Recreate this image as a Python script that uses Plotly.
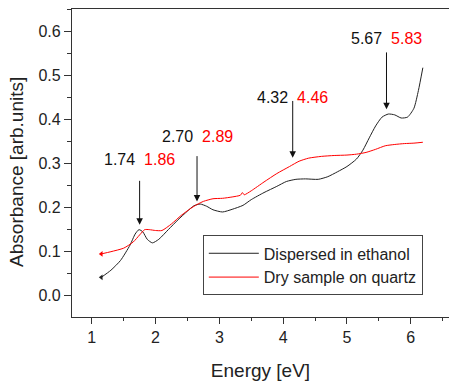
import plotly.graph_objects as go

# Data
energy_eth = [1.15, 1.3, 1.45, 1.6, 1.68, 1.74, 1.80, 1.87, 1.95, 2.05, 2.2, 2.35, 2.5, 2.6, 2.7, 2.8,
              2.9, 3.05, 3.2, 3.37, 3.5, 3.7, 3.9, 4.05, 4.2, 4.35, 4.55, 4.7, 4.85, 5.0, 5.15, 5.25,
              5.35, 5.45, 5.55, 5.65, 5.75, 5.85, 5.95, 6.05, 6.12, 6.19]
abs_eth = [0.042, 0.058, 0.080, 0.115, 0.140, 0.150, 0.145, 0.128, 0.120, 0.128, 0.150, 0.172, 0.192,
           0.204, 0.208, 0.203, 0.195, 0.190, 0.196, 0.205, 0.218, 0.234, 0.248, 0.259, 0.264, 0.265,
           0.264, 0.270, 0.281, 0.293, 0.310, 0.330, 0.358, 0.385, 0.405, 0.412, 0.410, 0.403, 0.405,
           0.425, 0.465, 0.517]

energy_dry = [1.15, 1.3, 1.5, 1.65, 1.75, 1.83, 1.9, 2.0, 2.1, 2.25, 2.4, 2.55, 2.65, 2.75, 2.9, 3.05,
              3.2, 3.33, 3.36, 3.39, 3.5, 3.7, 3.9, 4.1, 4.25, 4.4, 4.6, 4.8, 5.0, 5.15, 5.3, 5.45,
              5.6, 5.75, 5.9, 6.05, 6.19]
abs_dry = [0.095, 0.100, 0.108, 0.122, 0.138, 0.150, 0.150, 0.148, 0.148, 0.163, 0.182, 0.198, 0.207,
           0.214, 0.220, 0.221, 0.224, 0.228, 0.234, 0.229, 0.238, 0.258, 0.277, 0.293, 0.305, 0.312,
           0.316, 0.318, 0.319, 0.321, 0.325, 0.332, 0.340, 0.343, 0.345, 0.346, 0.348]

# Peak labels: (black value, red value, arrow x, arrow tail y, arrow head y, label y)
peak_black = ["1.74", "2.70", "4.32", "5.67"]
peak_red = ["1.86", "2.89", "4.46", "5.83"]
arrow_x = [1.75, 2.65, 4.15, 5.62]
arrow_tail = [0.264, 0.320, 0.445, 0.555]
arrow_head = [0.161, 0.214, 0.313, 0.423]
label_y = [0.310, 0.360, 0.449, 0.583]

FONT = "Liberation Sans, Arial, sans-serif"

fig = go.Figure()
fig.add_trace(go.Scatter(x=energy_eth, y=abs_eth, mode="lines", name="Dispersed in ethanol",
                         line=dict(color="#222222", width=1, shape="spline", smoothing=0.6)))
fig.add_trace(go.Scatter(x=energy_dry, y=abs_dry, mode="lines", name="Dry sample on quartz",
                         line=dict(color="#ff0000", width=1, shape="spline", smoothing=0.6)))
fig.add_trace(go.Scatter(x=[energy_eth[0]], y=[abs_eth[0]], mode="markers", showlegend=False,
                         marker=dict(color="#222222", size=5, symbol="triangle-left")))
fig.add_trace(go.Scatter(x=[energy_dry[0]], y=[abs_dry[0]], mode="markers", showlegend=False,
                         marker=dict(color="#ff0000", size=5, symbol="triangle-left")))

for b, r, ax_, t, h, ly in zip(peak_black, peak_red, arrow_x, arrow_tail, arrow_head, label_y):
    fig.add_annotation(x=ax_, y=h, ax=ax_, ay=t, xref="x", yref="y", axref="x", ayref="y",
                       text="", showarrow=True, arrowhead=2, arrowsize=1.3, arrowwidth=1,
                       arrowcolor="#111111")
    fig.add_annotation(x=ax_, y=ly, xref="x", yref="y", showarrow=False,
                       text=f"{b}&nbsp;&nbsp;<span style='color:#ff0000'>{r}</span>",
                       font=dict(size=16, color="#111111", family=FONT))

# y-axis title as annotation (placed slightly below the axis centre, as in the reference)
fig.add_annotation(text="Absorbance [arb.units]", xref="paper", yref="paper",
                   x=-0.146, y=0.471, xanchor="center", yanchor="middle", textangle=-90,
                   showarrow=False, font=dict(size=19, family=FONT, color="#222222"))

fig.update_layout(
    width=449, height=381,
    margin=dict(l=72, r=0, t=9, b=64),
    paper_bgcolor="white", plot_bgcolor="white",
    font=dict(family=FONT, size=16, color="#222222"),
    legend=dict(x=0.347, y=0.265, xanchor="left", yanchor="top",
                bordercolor="#444444", borderwidth=1, bgcolor="white",
                font=dict(size=16, family=FONT), tracegroupgap=0,
                itemwidth=50, entrywidth=170),
    xaxis=dict(range=[0.69, 6.6], tickvals=[1, 2, 3, 4, 5, 6], ticks="outside", ticklen=6,
               tickwidth=1, tickcolor="#333", showline=True, linecolor="#333", linewidth=1.2,
               mirror=True, showgrid=False, zeroline=False,
               minor=dict(dtick=0.5, ticks="outside", ticklen=3, tickcolor="#333", showgrid=False),
               title=dict(text="Energy [eV]", font=dict(size=19), standoff=18),
               tickfont=dict(size=16)),
    yaxis=dict(range=[-0.048, 0.65], tickvals=[0.0, 0.1, 0.2, 0.3, 0.4, 0.5, 0.6],
               tickformat=".1f", ticks="outside", ticklen=7, tickwidth=1, tickcolor="#333",
               showline=True, linecolor="#333", linewidth=1.2, showgrid=False, zeroline=False,
               minor=dict(dtick=0.05, ticks="outside", ticklen=4, tickcolor="#333", showgrid=False),
               tickfont=dict(size=16)),
)

fig.write_html("out.html")
